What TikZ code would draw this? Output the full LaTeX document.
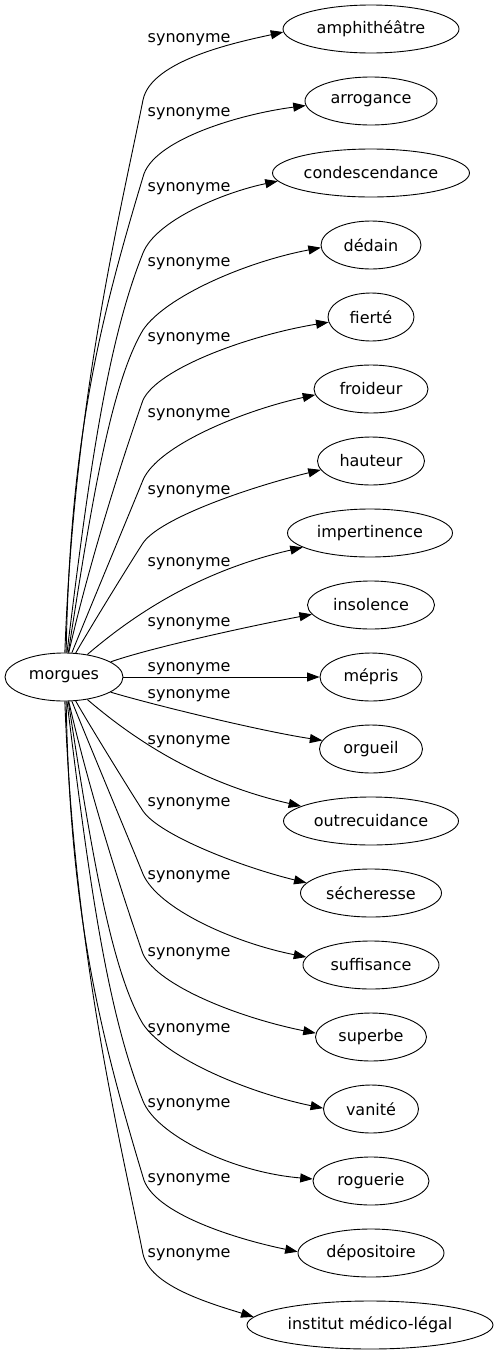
\documentclass[tikz,border=0pt]{standalone}
\usepackage{fontspec}
\setmainfont{DejaVu Sans}
\usetikzlibrary{shapes.geometric,arrows.meta}
\begin{document}
\begin{tikzpicture}[x=1pt,y=-1pt,
  every node/.style={font=\fontsize{16}{19}\selectfont},
  word/.style={draw, ellipse, inner sep=0pt, minimum height=48pt, line width=0.9pt},
  lbl/.style={anchor=base west, inner sep=0pt},
  syn/.style={draw, line width=0.9pt, -{Triangle[length=12.5pt,width=9pt]}}
]
\useasboundingbox[fill=white] (0,0) rectangle (499,1355);

\node[word, minimum width=118pt] (m) at (64,677) {morgues};
\node[word, minimum width=176pt] (n1) at (371,29) {amphithéâtre};
\node[word, minimum width=132pt] (n2) at (371,101) {arrogance};
\node[word, minimum width=197pt] (n3) at (371,173) {condescendance};
\node[word, minimum width=100pt] (n4) at (371,245) {dédain};
\node[word, minimum width=86pt] (n5) at (371,317) {fierté};
\node[word, minimum width=114pt] (n6) at (371,389) {froideur};
\node[word, minimum width=107pt] (n7) at (371,461) {hauteur};
\node[word, minimum width=165pt] (n8) at (370,533) {impertinence};
\node[word, minimum width=127pt] (n9) at (371,605) {insolence};
\node[word, minimum width=102pt] (n10) at (371,677) {mépris};
\node[word, minimum width=103pt] (n11) at (371,749) {orgueil};
\node[word, minimum width=175pt] (n12) at (371,821) {outrecuidance};
\node[word, minimum width=141pt] (n13) at (371,893) {sécheresse};
\node[word, minimum width=136pt] (n14) at (371,965) {suffisance};
\node[word, minimum width=111pt] (n15) at (371,1037) {superbe};
\node[word, minimum width=95pt] (n16) at (371,1109) {vanité};
\node[word, minimum width=116pt] (n17) at (371,1181) {roguerie};
\node[word, minimum width=146pt] (n18) at (371,1253) {dépositoire};
\node[word, minimum width=246pt] (n19) at (370,1325) {institut médico-légal};

% upper edges
\draw[syn] (m.88) .. controls (74,400) and (120,215) .. (143,100) .. controls (151,60) and (238,42) .. (n1.182);
\draw[syn] (m.85) .. controls (70,439) and (100,320) .. (143,177) .. controls (152,140) and (240,114) .. (n2.184);
\draw[syn] (m.83) .. controls (89,473) and (107,343) .. (143,253) .. controls (156,220) and (225,192) .. (n3.185);
\draw[syn] (m.80) .. controls (90,513) and (110,385) .. (143,330) .. controls (165,297) and (245,262) .. (n4.183);
\draw[syn] (m.79) .. controls (90,560) and (122,460) .. (143,400) .. controls (158,368) and (250,335) .. (n5.187);
\draw[syn] (m.72) .. controls (85,620) and (130,512) .. (143,480) .. controls (158,445) and (245,410) .. (n6.186);
\draw[syn] (m.64) .. controls (87,633) and (130,563) .. (143,543) .. controls (160,518) and (250,487) .. (n7.190);
\draw[syn] (m.44) .. controls (130,618) and (195,572) .. (n8.192);
\draw[syn] (m.18) .. controls (150,648) and (250,626) .. (n9.189);
% middle
\draw[syn] (m) -- (n10);
% lower edges
\draw[syn] (m.342) .. controls (150,704) and (260,731) .. (n11.170);
\draw[syn] (m.316) .. controls (130,736) and (195,782) .. (n12.168);
\draw[syn] (m.296) .. controls (87,721) and (130,791) .. (143,811) .. controls (160,836) and (245,868) .. (n13.171);
\draw[syn] (m.288) .. controls (85,734) and (130,842) .. (143,874) .. controls (158,909) and (235,943) .. (n14.173);
\draw[syn] (m.281) .. controls (90,794) and (122,894) .. (143,954) .. controls (158,986) and (240,1018) .. (n15.176);
\draw[syn] (m.280) .. controls (90,841) and (110,969) .. (143,1024) .. controls (165,1057) and (245,1092) .. (n16.179);
\draw[syn] (m.277) .. controls (89,881) and (107,1011) .. (143,1101) .. controls (156,1134) and (230,1172) .. (n17.178);
\draw[syn] (m.275) .. controls (70,915) and (100,1034) .. (143,1177) .. controls (152,1214) and (240,1240) .. (n18.179);
\draw[syn] (m.272) .. controls (74,954) and (120,1139) .. (143,1254) .. controls (150,1285) and (205,1302) .. (n19.176);

% labels
\node[lbl] (l1) at (147.5,42.7) {synonyme};
\node[lbl] (l2) at (147.5,116) {synonyme};
\node[lbl] (l3) at (147.5,191) {synonyme};
\node[lbl] (l4) at (147.5,266) {synonyme};
\node[lbl] (l5) at (147.5,341) {synonyme};
\node[lbl] (l6) at (147.5,417.7) {synonyme};
\node[lbl] (l7) at (147.5,494.4) {synonyme};
\node[lbl] (l8) at (147.5,566) {synonyme};
\node[lbl] (l9) at (147.5,626) {synonyme};
\node[lbl] (l10) at (147.5,671) {synonyme};
\node[lbl] (l11) at (147.5,698) {synonyme};
\node[lbl] (l12) at (147.5,744.4) {synonyme};
\node[lbl] (l13) at (147.5,806) {synonyme};
\node[lbl] (l14) at (147.5,879.4) {synonyme};
\node[lbl] (l15) at (147.5,956) {synonyme};
\node[lbl] (l16) at (147.5,1032.7) {synonyme};
\node[lbl] (l17) at (147.5,1107.7) {synonyme};
\node[lbl] (l18) at (147.5,1182.7) {synonyme};
\node[lbl] (l19) at (147.5,1257.7) {synonyme};
\end{tikzpicture}
\end{document}
